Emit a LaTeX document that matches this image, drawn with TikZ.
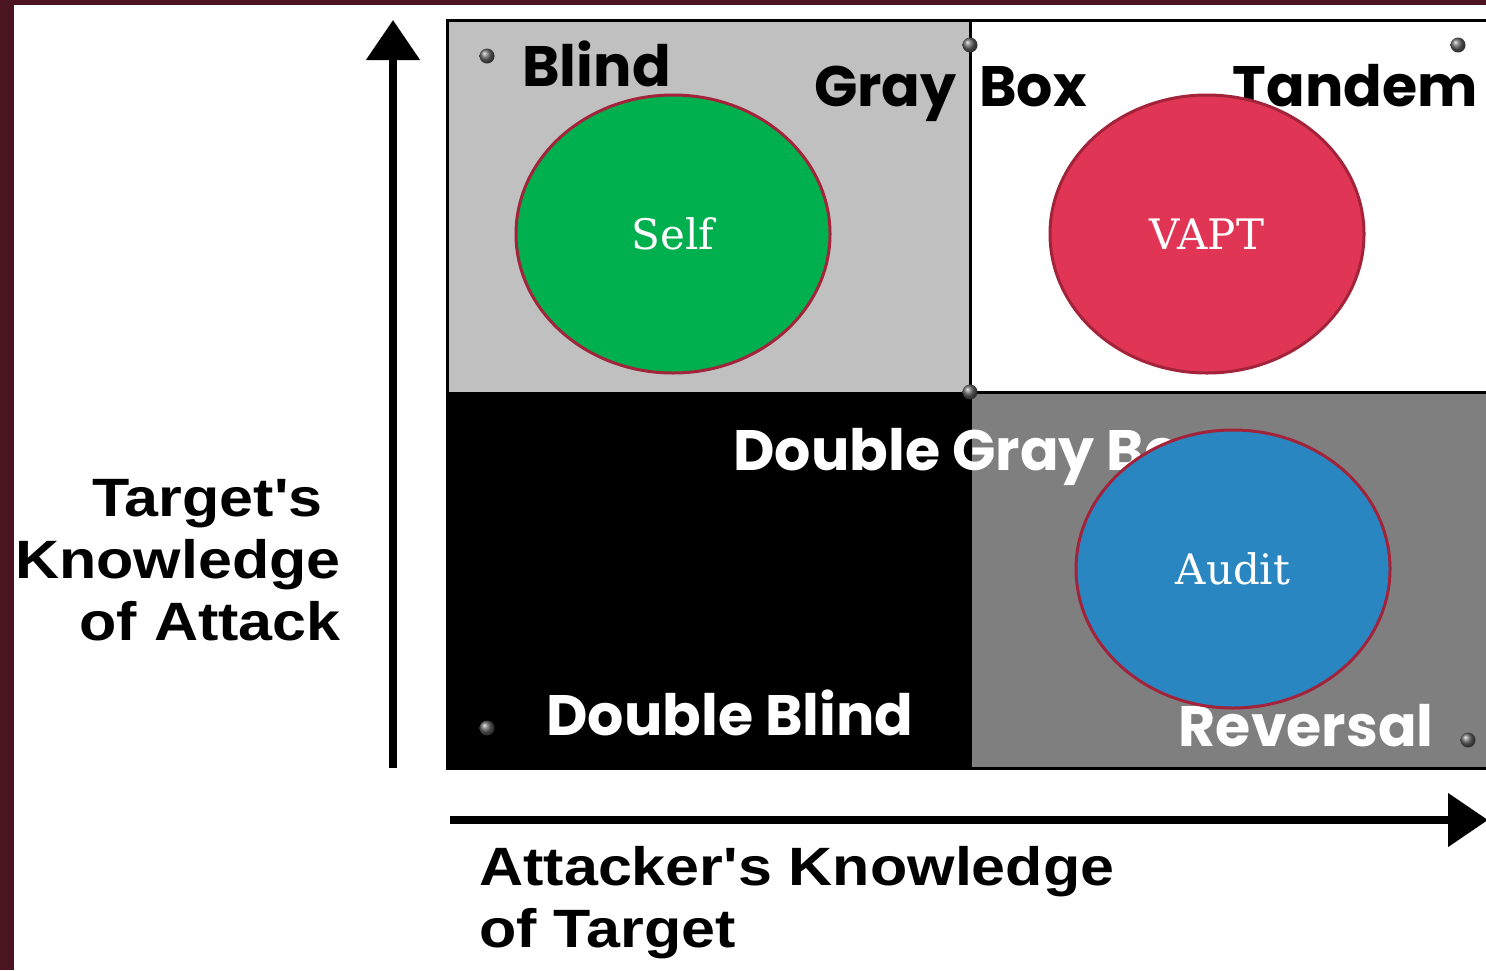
\documentclass[tikz,border=0pt]{standalone}
\usepackage{fontspec}
\usetikzlibrary{arrows.meta,shapes.geometric}
\newfontfamily\geo{Poppins}
\newfontfamily\arial[FakeStretch=1.13]{Liberation Sans}
\newfontfamily\slab{DejaVu Serif}
\definecolor{frame}{HTML}{4A1421}
\definecolor{lightq}{HTML}{C0C0C0}
\definecolor{darkq}{HTML}{7F7F7F}
\definecolor{selfgreen}{HTML}{00B04F}
\definecolor{vaptred}{HTML}{E03555}
\definecolor{auditblue}{HTML}{2A86C0}
\definecolor{rim}{HTML}{A3233A}
\tikzset{
  quadlabel/.style={inner sep=0pt, font=\geo\bfseries\fontsize{28.5}{32}\selectfont},
  axislabel/.style={inner sep=0pt, font=\arial\bfseries\fontsize{27}{31}\selectfont},
  blob/.style={ellipse, draw=rim, line width=1.5pt, minimum width=314pt*0.5, minimum height=278pt*0.5,
               text=white, font=\slab\fontsize{21}{24}\selectfont},
  bead/.style={circle, inner sep=0pt, minimum size=7.5pt, shading=ball, ball color=gray!80!black},
  axis/.style={line width=4pt, -{Triangle[length=20pt,width=26pt]}},
}
\begin{document}
\begin{tikzpicture}[x=0.5pt,y=-0.5pt]
\useasboundingbox (0,0) rectangle (1486,970);
% page frame and canvas
\fill[frame] (0,0) rectangle (1486,970);
\fill[white] (14,5) rectangle (1486,970);

% quadrants
\fill[lightq] (447,20) rectangle (970,392);
\fill[white] (970,20) rectangle (1490,392);
\fill[black] (447,392) rectangle (972,768);
\fill[darkq] (972,392) rectangle (1490,768);
\draw[line width=1.5pt] (1490,20) -- (447,20) -- (447,768) -- (1490,768);
\draw[line width=1.5pt] (970,20) -- (970,392);
\draw[line width=1.5pt] (970,392) -- (1490,392);

% quadrant labels
\node[quadlabel, anchor=base west] (blind) at (522,86) {Blind};
\node[quadlabel, anchor=base east] (gray) at (957,106) {Gray};
\node[quadlabel, anchor=base west] (box) at (979,106) {Box};
\node[quadlabel, anchor=base east] (tandem) at (1478,106) {Tandem};
\node[quadlabel, anchor=base west, text=white] (dgray) at (733,470) {Double Gray Box};
\node[quadlabel, anchor=base west, text=white] (dblind) at (546,735) {Double Blind};
\node[quadlabel, anchor=base east, text=white] (reversal) at (1434,746) {Reversal};

% corner beads
\node[bead] (b1) at (487,56) {};
\node[bead] (b2) at (970,45) {};
\node[bead] (b3) at (1458,45) {};
\node[bead] (b4) at (970,392) {};
\node[bead] (b5) at (487,728) {};
\node[bead] (b6) at (1468,740) {};

% testing approaches
\node[blob, fill=selfgreen] (self) at (673,234) {Self};
\node[blob, fill=vaptred] (vapt) at (1207,234) {VAPT};
\node[blob, fill=auditblue] (audit) at (1233,569) {Audit};

% axes
\coordinate (ybot) at (393,768);
\coordinate (ytop) at (393,20);
\coordinate (xleft) at (450,820);
\coordinate (xright) at (1488,820);
\draw[axis] (ybot) -- (ytop);
\draw[axis] (xleft) -- (xright);

\node[axislabel, anchor=base east, align=right] (tk) at (341,640) {Target's\hspace*{9pt}\\Knowledge\\of Attack};
\node[axislabel, anchor=base west, align=left] (ak) at (479,947) {Attacker's Knowledge\\of Target};
\end{tikzpicture}
\end{document}
